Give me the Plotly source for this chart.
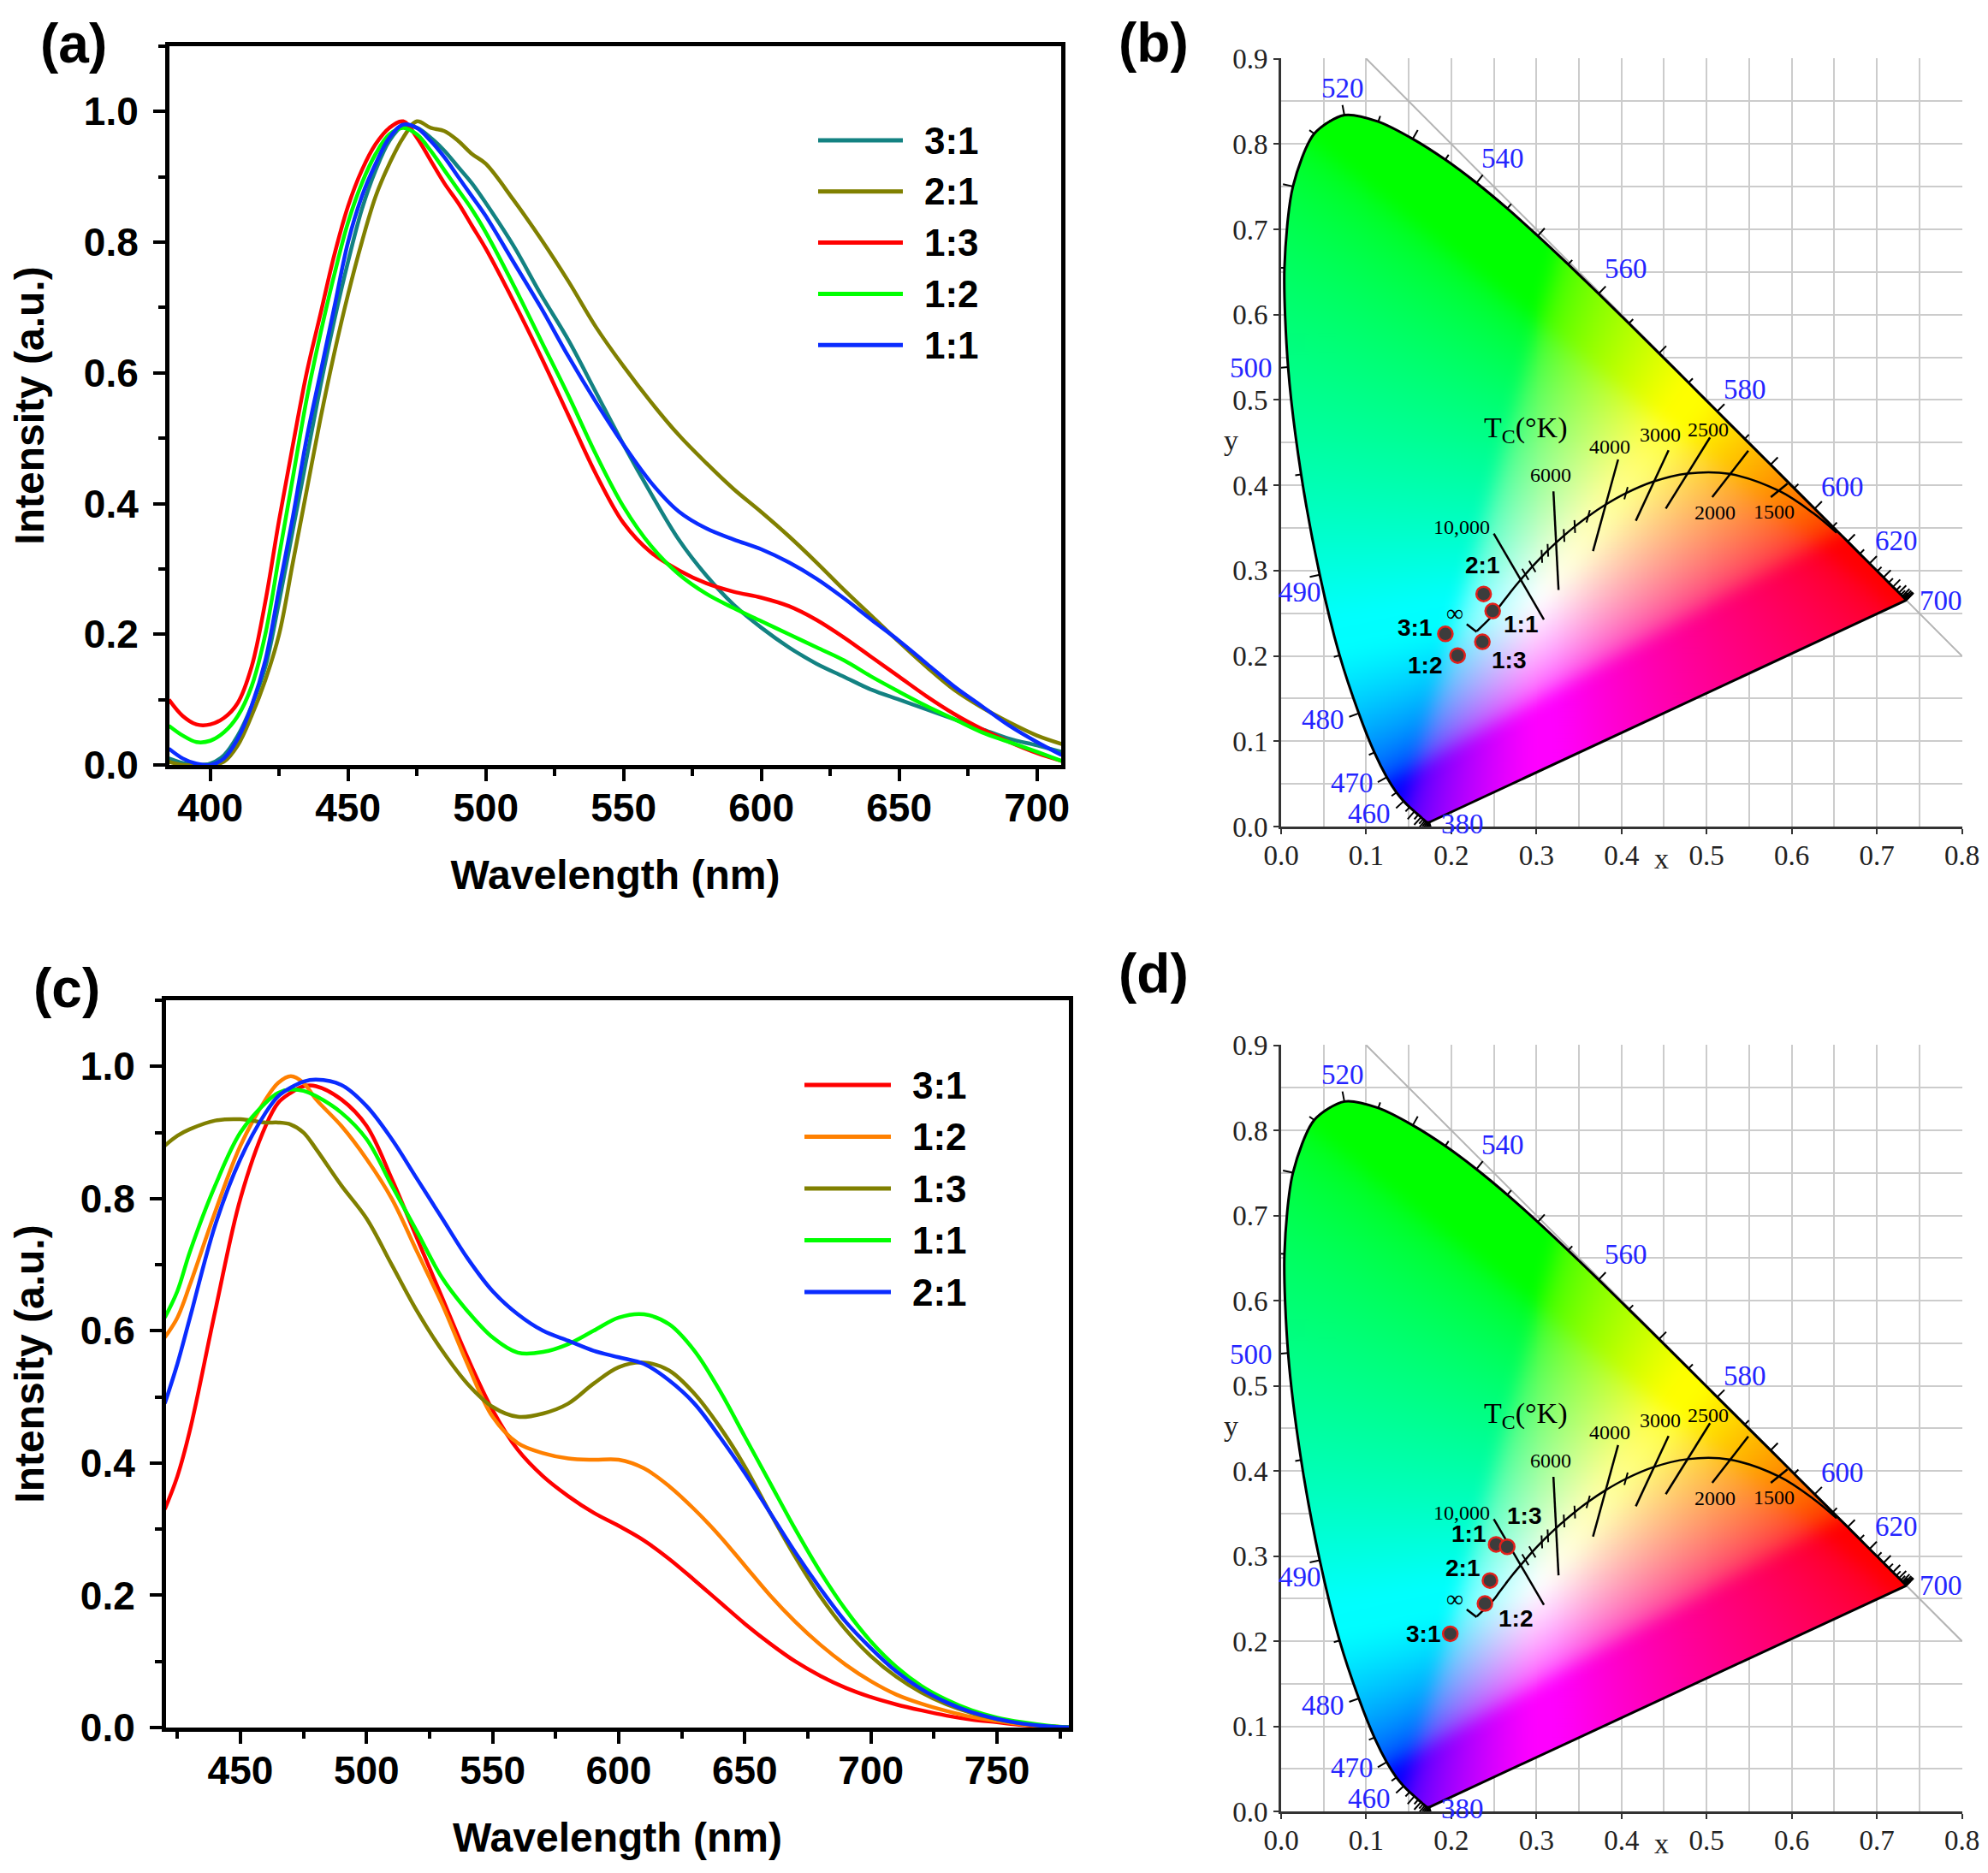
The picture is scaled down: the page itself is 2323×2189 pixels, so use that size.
import base64
import struct
import zlib

import numpy as np
import plotly.graph_objects as go

W, H = 2323, 2189      # page size of the reference
OFF = 8                # browser body margin, the figure starts 8 px in
FW, FH = W - OFF, H - OFF

# ── (a) emission spectra ─────────────────────────────────────────────────────
WL_A = [385, 390, 395, 400, 405, 410, 415, 420, 425, 430, 435, 440, 445, 450, 455,
        460, 465, 470, 475, 480, 485, 490, 495, 500, 510, 520, 530, 540, 550, 560,
        570, 580, 590, 600, 610, 620, 630, 640, 650, 660, 670, 680, 690, 700, 709]
A_31 = [.010, .003, .000, .002, .015, .045, .090, .150, .250, .360, .470, .580, .680, .770, .850,
        .910, .955, .978, .975, .960, .940, .915, .890, .860, .795, .720, .650, .570, .490, .415,
        .345, .290, .245, .210, .180, .155, .135, .115, .100, .085, .070, .055, .040, .030, .020]
A_21 = [.005, .000, .000, .000, .005, .030, .075, .130, .200, .310, .420, .530, .630, .720, .800,
        .870, .920, .960, .985, .975, .970, .955, .935, .920, .865, .805, .740, .670, .610, .555,
        .505, .462, .422, .387, .350, .310, .268, .228, .188, .150, .115, .088, .065, .045, .032]
A_13 = [.100, .075, .062, .062, .072, .095, .150, .250, .375, .490, .600, .690, .780, .855, .910,
        .950, .975, .985, .960, .925, .890, .860, .825, .790, .710, .625, .535, .445, .370, .325,
        .298, .278, .265, .256, .243, .222, .195, .165, .135, .105, .078, .055, .035, .018, .006]
A_12 = [.060, .045, .035, .037, .050, .075, .120, .200, .320, .440, .560, .660, .750, .830, .890,
        .935, .965, .975, .965, .940, .910, .880, .850, .815, .735, .650, .565, .475, .395, .335,
        .292, .262, .240, .220, .200, .180, .160, .135, .112, .090, .070, .050, .035, .020, .006]
A_11 = [.025, .010, .002, .000, .010, .040, .090, .160, .270, .380, .500, .600, .700, .800, .870,
        .920, .960, .980, .975, .955, .930, .900, .870, .840, .770, .700, .625, .555, .490, .432,
        .388, .362, .345, .330, .310, .285, .255, .222, .190, .155, .120, .090, .060, .035, .015]

# ── (c) emission spectra ─────────────────────────────────────────────────────
WL_C = [420, 425, 430, 440, 450, 460, 465, 470, 475, 480, 490, 500, 510, 520, 530, 540,
        550, 560, 570, 580, 590, 600, 610, 620, 630, 640, 650, 660, 670, 680, 690, 700,
        710, 720, 730, 740, 750, 760, 770, 780]
C_31 = [.33, .38, .45, .63, .80, .91, .945, .96, .97, .97, .95, .91, .83, .74, .65, .56,
        .48, .42, .38, .35, .325, .305, .283, .255, .223, .19, .157, .127, .10, .078, .06, .046,
        .035, .026, .018, .012, .008, .004, .002, .0]
C_12 = [.59, .62, .67, .78, .88, .95, .975, .985, .975, .95, .91, .86, .80, .72, .64, .55,
        .47, .43, .415, .407, .405, .405, .392, .365, .33, .29, .245, .20, .16, .125, .095, .07,
        .05, .036, .025, .016, .01, .005, .002, .0]
C_13 = [.88, .895, .905, .918, .92, .915, .915, .912, .90, .875, .82, .77, .70, .63, .57, .52,
        .485, .47, .475, .49, .52, .545, .552, .54, .505, .455, .395, .325, .258, .198, .148, .108,
        .077, .053, .035, .022, .013, .006, .002, .0]
C_11 = [.62, .66, .72, .82, .90, .945, .96, .965, .963, .955, .93, .89, .82, .75, .68, .63,
        .59, .567, .568, .58, .60, .62, .625, .61, .57, .51, .44, .37, .30, .235, .178, .13,
        .092, .063, .042, .026, .015, .008, .003, .0]
C_21 = [.49, .55, .62, .76, .86, .93, .955, .968, .977, .98, .972, .94, .89, .83, .77, .71,
        .66, .625, .60, .585, .57, .56, .55, .525, .49, .44, .385, .325, .265, .21, .16, .12,
        .085, .058, .038, .023, .013, .006, .002, .0]

# ── CIE chromaticity of the samples ──────────────────────────────────────────
B_LABELS = ["2:1", "1:1", "3:1", "1:3", "1:2"]
B_X = [0.238, 0.2486, 0.193, 0.2365, 0.2074]
B_Y = [0.2726, 0.2526, 0.2258, 0.2165, 0.2004]
D_LABELS = ["1:1", "1:3", "2:1", "1:2", "3:1"]
D_X = [0.2526, 0.2657, 0.2454, 0.2395, 0.1988]
D_Y = [0.3136, 0.3108, 0.2712, 0.2441, 0.2086]

# spectral locus, CIE 1931 2°, 380-700 nm every 5 nm
SL_WL = list(range(380, 705, 5))
SL_X = [0.1741, 0.1740, 0.1738, 0.1736, 0.1733, 0.1730, 0.1726, 0.1721, 0.1714, 0.1703,
        0.1689, 0.1669, 0.1644, 0.1611, 0.1566, 0.1510, 0.1440, 0.1355, 0.1241, 0.1096,
        0.0913, 0.0687, 0.0454, 0.0235, 0.0082, 0.0039, 0.0139, 0.0389, 0.0743, 0.1142,
        0.1547, 0.1929, 0.2296, 0.2658, 0.3016, 0.3373, 0.3731, 0.4087, 0.4441, 0.4788,
        0.5125, 0.5448, 0.5752, 0.6029, 0.6270, 0.6482, 0.6658, 0.6801, 0.6915, 0.7006,
        0.7079, 0.7140, 0.7190, 0.7230, 0.7260, 0.7283, 0.7300, 0.7311, 0.7320, 0.7327,
        0.7334, 0.7340, 0.7344, 0.7346, 0.7347]
SL_Y = [0.0050, 0.0050, 0.0049, 0.0049, 0.0048, 0.0048, 0.0048, 0.0048, 0.0051, 0.0058,
        0.0069, 0.0086, 0.0109, 0.0138, 0.0177, 0.0227, 0.0297, 0.0399, 0.0578, 0.0868,
        0.1327, 0.2007, 0.2950, 0.4127, 0.5384, 0.6548, 0.7502, 0.8120, 0.8338, 0.8262,
        0.8059, 0.7816, 0.7543, 0.7243, 0.6923, 0.6589, 0.6245, 0.5896, 0.5547, 0.5202,
        0.4866, 0.4544, 0.4242, 0.3965, 0.3725, 0.3514, 0.3340, 0.3197, 0.3083, 0.2993,
        0.2920, 0.2859, 0.2809, 0.2770, 0.2740, 0.2717, 0.2700, 0.2689, 0.2680, 0.2673,
        0.2666, 0.2660, 0.2656, 0.2654, 0.2653]

WL_LABELS = ["380", "460", "470", "480", "490", "500", "520", "540", "560", "580", "600", "620", "700"]
WL_LABEL_X = [0.213, 0.104, 0.083, 0.049, 0.022, -0.035, 0.072, 0.2605, 0.405, 0.5446, 0.6594, 0.723, 0.7756]
WL_LABEL_Y = [0.003, 0.015, 0.051, 0.125, 0.275, 0.537, 0.865, 0.783, 0.654, 0.512, 0.398, 0.335, 0.265]

# Planckian locus, from T = infinity down to 1000 K
PL_T = [0, 30000, 20000, 15000, 12000, 10000, 9000, 8000, 7000, 6500, 6000,
        5500, 5000, 4500, 4000, 3500, 3000, 2500, 2000, 1500, 1200, 1000]
PL_X = [0.2300, 0.2500, 0.2564, 0.2637, 0.2718, 0.2807, 0.2870, 0.2952, 0.3064, 0.3135, 0.3221,
        0.3325, 0.3451, 0.3608, 0.3805, 0.4053, 0.4369, 0.4770, 0.5267, 0.5857, 0.6251, 0.6528]
PL_Y = [0.2290, 0.2489, 0.2576, 0.2672, 0.2776, 0.2883, 0.2956, 0.3048, 0.3166, 0.3237, 0.3318,
        0.3411, 0.3516, 0.3636, 0.3768, 0.3907, 0.4041, 0.4137, 0.4133, 0.3931, 0.3674, 0.3444]

# isotherm lines (end points) and their labels
ISO_T = [10000, 6000, 4000, 3000, 2500, 2000, 1500]
ISO_X0 = [0.2499, 0.3200, 0.3960, 0.4553, 0.5040, 0.5490, 0.5950]
ISO_Y0 = [0.3434, 0.3929, 0.4302, 0.4410, 0.4560, 0.4404, 0.4018]
ISO_X1 = [0.3088, 0.3260, 0.3665, 0.4168, 0.4520, 0.5066, 0.5755]
ISO_Y1 = [0.2426, 0.2773, 0.3227, 0.3584, 0.3726, 0.3860, 0.3860]
ISO_TEXT = ["10,000", "6000", "4000", "3000", "2500", "2000", "1500"]
ISO_LX = [0.2124, 0.317, 0.386, 0.445, 0.502, 0.510, 0.579]
ISO_LY = [0.351, 0.412, 0.445, 0.459, 0.465, 0.368, 0.369]
INF_X = [0.2181, 0.2298]
INF_Y = [0.2372, 0.2282]
MINOR_T = [9000, 8000, 7000, 6500, 5500, 5000, 4500, 3500]

# ── styles ───────────────────────────────────────────────────────────────────
SANS = "Liberation Sans"
SERIF = "Liberation Serif"
LW = 4.5
PPU = 995  # px per chromaticity unit in the CIE panels

SERIES_A = [("3:1", A_31, "#138282"), ("2:1", A_21, "#808000"), ("1:3", A_13, "#ff0000"),
            ("1:2", A_12, "#00ff00"), ("1:1", A_11, "#0a2cff")]
SERIES_C = [("3:1", C_31, "#ff0000"), ("1:2", C_12, "#ff8000"), ("1:3", C_13, "#808000"),
            ("1:1", C_11, "#00ff00"), ("2:1", C_21, "#0a2cff")]


def xdom(p0, p1):
    return [(p0 - OFF) / FW, (p1 - OFF) / FW]


def ydom(top, bottom):
    return [1 - (bottom - OFF) / FH, 1 - (top - OFF) / FH]


def px_x(p):
    return (p - OFF) / FW


def px_y(p):
    return 1 - (p - OFF) / FH


fig = go.Figure()
annotations = []
shapes = []

# ── spectra ──────────────────────────────────────────────────────────────────
for name, ys, color in SERIES_A:
    fig.add_trace(go.Scatter(x=WL_A, y=ys, mode="lines", name=name, showlegend=False,
                             line=dict(color=color, width=LW, shape="spline", smoothing=1.0),
                             xaxis="x", yaxis="y"))
for name, ys, color in SERIES_C:
    fig.add_trace(go.Scatter(x=WL_C, y=ys, mode="lines", name=name, showlegend=False,
                             line=dict(color=color, width=LW, shape="spline", smoothing=1.0),
                             xaxis="x3", yaxis="y3"))

# Origin-style legends: long key line + bold label
legend_font = dict(family=SANS, size=44, color="black", weight="bold")
for series, x0, x1, xt, row0, pitch in [(SERIES_A, 956, 1055, 1078, 164, 59.8),
                                        (SERIES_C, 940, 1041, 1064, 1268, 60.5)]:
    for i, (name, _, color) in enumerate(series):
        yy = px_y(row0 + i * pitch)
        shapes.append(dict(type="line", xref="paper", yref="paper", x0=px_x(x0), x1=px_x(x1),
                           y0=yy, y1=yy, line=dict(color=color, width=5)))
        annotations.append(dict(x=px_x(xt), y=yy, xref="paper", yref="paper", text=name,
                                showarrow=False, xanchor="left", yanchor="middle",
                                font=legend_font))


# ── CIE background ───────────────────────────────────────────────────────────
def smooth_locus(sub=8):
    p = np.column_stack([SL_X, SL_Y])
    n = len(p)
    out = []
    t = np.linspace(0, 1, sub, endpoint=False)[:, None]
    for i in range(n - 1):
        p0, p1, p2, p3 = p[max(i - 1, 0)], p[i], p[i + 1], p[min(i + 2, n - 1)]
        out.append(0.5 * (2 * p1 + (-p0 + p2) * t + (2 * p0 - 5 * p1 + 4 * p2 - p3) * t ** 2
                          + (-p0 + 3 * p1 - 3 * p2 + p3) * t ** 3))
    out.append(p[-1:])
    return np.vstack(out)


def box_blur(a, r, axis):
    pad = [(0, 0)] * a.ndim
    pad[axis] = (r + 1, r)
    c = np.cumsum(np.pad(a, pad, mode="edge"), axis=axis)
    n = a.shape[axis]
    hi = np.take(c, np.arange(2 * r + 1, 2 * r + 1 + n), axis=axis)
    lo = np.take(c, np.arange(0, n), axis=axis)
    return (hi - lo) / (2 * r + 1)


def cie_png(step=0.001, nx=800, ny=900):
    gx = (np.arange(nx) + 0.5) * step
    gy = (np.arange(ny) + 0.5) * step
    X, Y = np.meshgrid(gx, gy)  # row 0 = lowest y
    poly = smooth_locus()
    px, py = poly[:, 0], poly[:, 1]
    inside = np.zeros(X.shape, dtype=bool)
    n = len(px)
    for i in range(n):
        x1, y1, x2, y2 = px[i], py[i], px[(i + 1) % n], py[(i + 1) % n]
        if y1 == y2:
            continue
        cross = (y1 > Y) != (y2 > Y)
        xint = x1 + (Y - y1) * (x2 - x1) / (y2 - y1)
        inside ^= cross & (X < xint)

    def to_rgb(x, y):
        Xc = x / y
        Zc = (1 - x - y) / y
        r = 3.2406 * Xc - 1.5372 - 0.4986 * Zc
        g = -0.9689 * Xc + 1.8758 + 0.0415 * Zc
        b = 0.0557 * Xc - 0.2040 + 1.0570 * Zc
        return r, g, b

    wr, wg, wb = to_rgb(0.30, 0.235)
    gains = np.array([wr, wg, wb]) ** 0.6
    r, g, b = to_rgb(X, Y)
    rgb = np.stack([r / gains[0], g / gains[1], b / gains[2]], axis=-1)
    rgb = np.clip(rgb, 0, None)
    p = 6.0
    m = (rgb ** p).sum(axis=-1, keepdims=True) ** (1 / p)
    rgb = np.clip(rgb / np.maximum(m, 1e-9) * 3 ** (1 / p), 0, 1)
    rgb = np.where(rgb <= 0.0031308, 12.92 * rgb, 1.055 * rgb ** (1 / 2.4) - 0.055)
    for _ in range(2):
        rgb = box_blur(rgb, 10, 0)
        rgb = box_blur(rgb, 10, 1)
    img = np.zeros((ny, nx, 4), dtype=np.uint8)
    img[..., :3] = np.clip(rgb * 255, 0, 255).astype(np.uint8)
    img[..., 3] = np.where(inside, 255, 0).astype(np.uint8)

    raw = b"".join(b"\x00" + img[i].tobytes() for i in range(ny))

    def chunk(tag, data):
        return (struct.pack(">I", len(data)) + tag + data
                + struct.pack(">I", zlib.crc32(tag + data) & 0xffffffff))

    png = (b"\x89PNG\r\n\x1a\n"
           + chunk(b"IHDR", struct.pack(">IIBBBBB", nx, ny, 8, 6, 0, 0, 0))
           + chunk(b"IDAT", zlib.compress(raw, 9))
           + chunk(b"IEND", b""))
    return "data:image/png;base64," + base64.b64encode(png).decode()


CIE_SRC = cie_png()


def spectral_ticks():
    xs, ys = [], []
    n = len(SL_X)
    for i, wl in enumerate(SL_WL):
        a, b = max(i - 1, 0), min(i + 1, n - 1)
        tx, ty = SL_X[b] - SL_X[a], SL_Y[b] - SL_Y[a]
        norm = (tx ** 2 + ty ** 2) ** 0.5 or 1
        nx_, ny_ = ty / norm, -tx / norm
        if nx_ * (SL_X[i] - 0.32) + ny_ * (SL_Y[i] - 0.33) < 0:
            nx_, ny_ = -nx_, -ny_
        ln = 0.012 if wl % 10 == 0 else 0.007
        xs += [SL_X[i], SL_X[i] + nx_ * ln, None]
        ys += [SL_Y[i], SL_Y[i] + ny_ * ln, None]
    return xs, ys


def minor_ticks():
    xs, ys = [], []
    for t in MINOR_T:
        k = PL_T.index(t)
        j = min(range(len(ISO_T)), key=lambda m: abs(1e6 / ISO_T[m] - 1e6 / t))
        dx, dy = ISO_X0[j] - ISO_X1[j], ISO_Y0[j] - ISO_Y1[j]
        d = (dx ** 2 + dy ** 2) ** 0.5
        h = 0.0075
        xs += [PL_X[k] - dx / d * h, PL_X[k] + dx / d * h, None]
        ys += [PL_Y[k] - dy / d * h, PL_Y[k] + dy / d * h, None]
    return xs, ys


def iso_lines():
    xs, ys = [], []
    for i in range(len(ISO_T)):
        xs += [ISO_X0[i], ISO_X1[i], None]
        ys += [ISO_Y0[i], ISO_Y1[i], None]
    return xs + INF_X, ys + INF_Y


def note(xa, ya, x, y, text, font, sx=0, sy=0):
    # keep the anchor inside the axis range (plotly hides others), shift in px instead
    cx = min(max(x, 0.002), 0.798)
    cy = min(max(y, 0.002), 0.898)
    annotations.append(dict(x=cx, y=cy, xref=xa, yref=ya, text=text, showarrow=False,
                            xanchor="center", yanchor="middle",
                            xshift=sx + (x - cx) * PPU, yshift=sy + (y - cy) * PPU, font=font))


def cie_panel(xa, ya, px, py, labels, offsets):
    fig.add_trace(go.Image(source=CIE_SRC, x0=0.0005, y0=0.0005, dx=0.001, dy=0.001,
                           xaxis=xa, yaxis=ya, hoverinfo="skip"))
    fig.add_trace(go.Scatter(x=[0.1, 0.8], y=[0.9, 0.2], mode="lines",
                             line=dict(color="#b4b4b4", width=2),
                             xaxis=xa, yaxis=ya, showlegend=False, hoverinfo="skip"))
    fig.add_trace(go.Scatter(x=SL_X, y=SL_Y, mode="lines",
                             line=dict(color="black", width=3, shape="spline", smoothing=0.8),
                             xaxis=xa, yaxis=ya, showlegend=False, hoverinfo="skip"))
    fig.add_trace(go.Scatter(x=[SL_X[-1], SL_X[0]], y=[SL_Y[-1], SL_Y[0]], mode="lines",
                             line=dict(color="black", width=3),
                             xaxis=xa, yaxis=ya, showlegend=False, hoverinfo="skip"))
    tx, ty = spectral_ticks()
    fig.add_trace(go.Scatter(x=tx, y=ty, mode="lines", line=dict(color="black", width=2),
                             xaxis=xa, yaxis=ya, showlegend=False, hoverinfo="skip"))
    fig.add_trace(go.Scatter(x=PL_X, y=PL_Y, mode="lines",
                             line=dict(color="black", width=2.5, shape="spline"),
                             xaxis=xa, yaxis=ya, showlegend=False, hoverinfo="skip"))
    ix, iy = iso_lines()
    fig.add_trace(go.Scatter(x=ix, y=iy, mode="lines", line=dict(color="black", width=2.5),
                             xaxis=xa, yaxis=ya, showlegend=False, hoverinfo="skip"))
    mx, my = minor_ticks()
    fig.add_trace(go.Scatter(x=mx, y=my, mode="lines", line=dict(color="black", width=2),
                             xaxis=xa, yaxis=ya, showlegend=False, hoverinfo="skip"))
    fig.add_trace(go.Scatter(x=px, y=py, mode="markers", text=labels,
                             marker=dict(size=17, color="#3c3c3c",
                                         line=dict(color="#e3201b", width=2.5)),
                             xaxis=xa, yaxis=ya, showlegend=False))

    for t, x, y in zip(WL_LABELS, WL_LABEL_X, WL_LABEL_Y):
        note(xa, ya, x, y, t, dict(family=SERIF, size=33, color="#2525ff"))
    for t, x, y in zip(ISO_TEXT, ISO_LX, ISO_LY):
        note(xa, ya, x, y, t, dict(family=SERIF, size=24, color="black"))
    note(xa, ya, 0.287, 0.465, "T<sub>C</sub>(°K)", dict(family=SERIF, size=34, color="black"))
    note(xa, ya, 0.204, 0.250, "∞", dict(family=SERIF, size=28, color="black"))
    note(xa, ya, 0.4475, -0.038, "x", dict(family=SERIF, size=34, color="#222"))
    note(xa, ya, -0.059, 0.4526, "y", dict(family=SERIF, size=34, color="#222"))
    for t, x, y in zip(labels, px, py):
        sx, sy = offsets[t]
        note(xa, ya, x, y, t, dict(family=SANS, size=28, color="black", weight="bold"), sx, sy)


cie_panel("x2", "y2", B_X, B_Y, B_LABELS,
          {"2:1": (-2, 34), "1:1": (33, -15), "3:1": (-36, 7), "1:3": (31, -21), "1:2": (-38, -11)})
cie_panel("x4", "y4", D_X, D_Y, D_LABELS,
          {"1:1": (-32, 12), "1:3": (20, 36), "2:1": (-32, 15), "1:2": (36, -17), "3:1": (-32, 0)})

# panel letters
for t, px_, py_ in [("(a)", 86, 51), ("(b)", 1348, 50), ("(c)", 78, 1155), ("(d)", 1348, 1138)]:
    annotations.append(dict(x=px_x(px_), y=px_y(py_), xref="paper", yref="paper", text=t,
                            showarrow=False, xanchor="center", yanchor="middle",
                            font=dict(family=SANS, size=64, color="black", weight="bold")))

# ── axes ─────────────────────────────────────────────────────────────────────
tick_font = dict(family=SANS, size=46, color="black", weight="bold")
title_font = dict(family=SANS, size=48, color="black", weight="bold")
spec_common = dict(showline=True, linewidth=5, linecolor="black", mirror=True,
                   ticks="outside", ticklen=14, tickwidth=4, tickcolor="black",
                   showgrid=False, zeroline=False, tickfont=tick_font, automargin=False)
minor_spec = dict(ticks="outside", ticklen=8, tickwidth=4, tickcolor="black")

cie_common = dict(showline=True, linewidth=3, linecolor="#333333", mirror=False,
                  ticks="outside", ticklen=6, tickwidth=2, tickcolor="#333333",
                  showgrid=True, gridcolor="#cccccc", gridwidth=2, zeroline=False,
                  tickfont=dict(family=SERIF, size=33, color="#222222"),
                  tickformat=".1f", dtick=0.1, tick0=0, automargin=False,
                  minor=dict(dtick=0.05, showgrid=True, gridcolor="#cccccc", gridwidth=2))

fig.update_layout(
    xaxis=dict(domain=xdom(198, 1240), range=[385.2, 708.8], tick0=400, dtick=50,
               minor=dict(dtick=25, **minor_spec), ticklabelstandoff=-8,
               title=dict(text="Wavelength (nm)", font=title_font, standoff=38),
               anchor="y", **spec_common),
    yaxis=dict(domain=ydom(54, 894), range=[0, 1.1], tick0=0, dtick=0.2, tickformat=".1f",
               minor=dict(dtick=0.1, **minor_spec), ticklabelstandoff=8,
               title=dict(text="Intensity (a.u.)", font=title_font, standoff=50),
               anchor="x", **spec_common),
    xaxis3=dict(domain=xdom(194, 1249), range=[420.5, 778.5], tick0=450, dtick=50,
                minor=dict(dtick=25, **minor_spec), ticklabelstandoff=-8,
                title=dict(text="Wavelength (nm)", font=title_font, standoff=38),
                anchor="y3", **spec_common),
    yaxis3=dict(domain=ydom(1169, 2019), range=[0, 1.1], tick0=0, dtick=0.2, tickformat=".1f",
                minor=dict(dtick=0.1, **minor_spec), ticklabelstandoff=8,
                title=dict(text="Intensity (a.u.)", font=title_font, standoff=50),
                anchor="x3", **spec_common),
    xaxis2=dict(domain=xdom(1497, 2293), range=[0, 0.8005], anchor="y2",
                ticklabelstandoff=-4, **cie_common),
    yaxis2=dict(domain=ydom(68, 966), range=[0, 0.9005], anchor="x2", scaleanchor=False,
                autorange=False, **cie_common),
    xaxis4=dict(domain=xdom(1497, 2293), range=[0, 0.8005], anchor="y4",
                ticklabelstandoff=-4, **cie_common),
    yaxis4=dict(domain=ydom(1221, 2117), range=[0, 0.9005], anchor="x4", scaleanchor=False,
                autorange=False, **cie_common),
    annotations=annotations,
    shapes=shapes,
    width=FW, height=FH,
    margin=dict(l=0, r=0, t=0, b=0, pad=0),
    paper_bgcolor="white", plot_bgcolor="white",
    template="none",
    showlegend=False,
)

fig.write_html("out.html")
